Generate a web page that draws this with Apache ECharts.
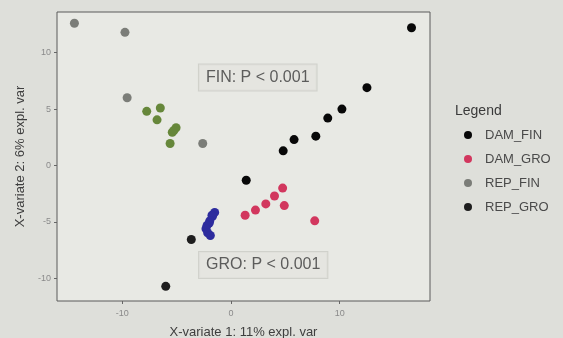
<!DOCTYPE html>
<html>
<head>
<meta charset="utf-8">
<script src="https://cdn.jsdelivr.net/npm/echarts@6/dist/echarts.min.js"></script>
<style>
  html, body { margin: 0; padding: 0; background: #dedfda; }
  #chart { width: 563px; height: 338px; }
</style>
</head>
<body>
<div id="chart"></div>
<script>
// values, [x-variate 1, x-variate 2]
const damFin = [[1.4, -1.3], [4.8, 1.3], [5.8, 2.3], [7.8, 2.6], [8.9, 4.2], [10.2, 5.0], [12.5, 6.9], [16.6, 12.2]];
const damGro = [[1.3, -4.4], [2.25, -3.95], [3.2, -3.4], [4.0, -2.7], [4.75, -2.0], [4.9, -3.55], [7.7, -4.9]];
const repFin = [[-14.4, 12.6], [-9.75, 11.8], [-9.55, 6.0], [-2.6, 1.95]];
const repGro = [[-3.65, -6.55], [-6.0, -10.7]];
const greenPts = [[-7.75, 4.8], [-6.5, 5.1], [-6.8, 4.05], [-5.05, 3.35], [-5.4, 2.95], [-5.6, 1.95], [-5.25, 3.1]];
const bluePts = [[-1.5, -4.15], [-1.75, -4.4], [-1.7, -4.5], [-1.95, -4.9], [-2.0, -5.1], [-2.2, -5.3], [-2.3, -5.6], [-2.15, -5.95], [-1.9, -6.2]];
const xTicks = [-10, 0, 10];
const yTicks = [-10, -5, 0, 5, 10];
const notes = [
  { text: "FIN: P < 0.001", pos: [2.46, 7.8] },
  { text: "GRO: P < 0.001", pos: [2.96, -8.8] },
];

const chart = echarts.init(document.getElementById("chart"));

function dots(name, data, color) {
  return {
    name: name,
    type: "scatter",
    data: data,
    symbolSize: 9,
    itemStyle: { color: color, opacity: 1 },
    emphasis: { disabled: true },
    z: 3,
  };
}

const option = {
  backgroundColor: "#dedfda",
  animation: false,
  title: {
    text: "Legend",
    left: 450,
    top: 99,
    textStyle: { fontFamily: "Liberation Sans", fontSize: 14, fontWeight: "normal", color: "#3a3a3a" },
  },
  legend: {
    data: ["DAM_FIN", "DAM_GRO", "REP_FIN", "REP_GRO"],
    orient: "vertical",
    left: 459,
    top: 123,
    icon: "circle",
    itemWidth: 8,
    itemHeight: 8,
    itemGap: 10,
    textStyle: {
      fontFamily: "Liberation Sans",
      fontSize: 13,
      lineHeight: 14,
      color: "#4a4a4a",
      padding: [0, 0, 0, 8],
    },
  },
  grid: {
    left: 57,
    right: 133,
    top: 12,
    bottom: 37,
    outerBoundsMode: "none",
    show: true,
    backgroundColor: "#e8e9e4",
    borderColor: "#5a5a5a",
    borderWidth: 1,
  },
  xAxis: {
    type: "value",
    min: -16,
    max: 18.3,
    name: "X-variate 1: 11% expl. var",
    nameLocation: "middle",
    nameGap: 25,
    nameTextStyle: { fontFamily: "Liberation Sans", fontSize: 13, color: "#3e3e3e" },
    axisLine: { show: false, onZero: false },
    splitLine: { show: false },
    axisTick: { show: true, length: 3, customValues: xTicks, lineStyle: { color: "#666" } },
    axisLabel: { customValues: xTicks, fontSize: 9, color: "#8a8a8a", margin: 8, fontFamily: "Liberation Sans" },
  },
  yAxis: {
    type: "value",
    min: -12.0,
    max: 13.6,
    name: "X-variate 2: 6% expl. var",
    nameLocation: "middle",
    nameGap: 28,
    nameTextStyle: { fontFamily: "Liberation Sans", fontSize: 13, color: "#3e3e3e" },
    axisLine: { show: false, onZero: false },
    splitLine: { show: false },
    axisTick: { show: true, length: 3, customValues: yTicks, lineStyle: { color: "#666" } },
    axisLabel: { customValues: yTicks, fontSize: 9, color: "#8a8a8a", margin: 6, fontFamily: "Liberation Sans" },
  },
  series: [
    dots("REP_FIN", repFin, "#7b7d78"),
    dots("green", greenPts, "#66873a"),
    dots("blue", bluePts, "#2d2c9e"),
    dots("DAM_GRO", damGro, "#d2375e"),
    dots("REP_GRO", repGro, "#1e1e1e"),
    dots("DAM_FIN", damFin, "#080808"),
    {
      name: "notes",
      type: "scatter",
      symbolSize: 0,
      silent: true,
      data: notes.map((n) => ({ value: n.pos, text: n.text })),
      label: {
        show: true,
        position: "inside",
        formatter: (p) => p.data.text,
        fontFamily: "Liberation Sans",
        fontSize: 16,
        color: "#3a3a3a",
        backgroundColor: "#e3e4df",
        borderColor: "#c9cac4",
        borderWidth: 1,
        padding: [5, 7],
      },
      z: 2,
    },
  ],
};

chart.setOption(option);
</script>
</body>
</html>
